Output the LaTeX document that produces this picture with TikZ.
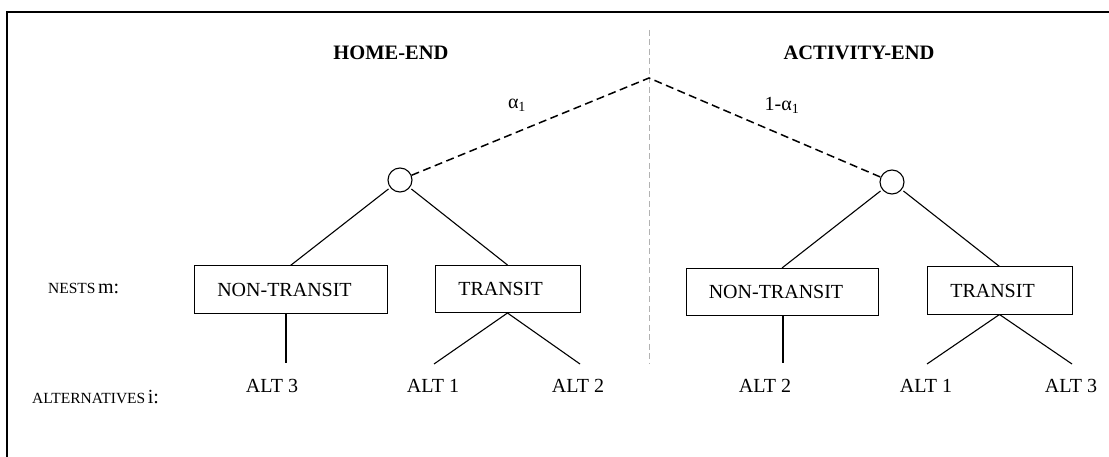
\documentclass[tikz,border=0pt]{standalone}
\usepackage{fontspec}
\setmainfont{Liberation Serif}
\begin{document}
\begin{tikzpicture}[x=1pt,y=-1pt,
  big/.style={font=\fontsize{20}{24}\selectfont, inner sep=0pt},
  head/.style={font=\fontsize{20.5}{24}\selectfont\bfseries, inner sep=0pt},
  boxnode/.style={draw, line width=1pt, minimum height=47pt, inner sep=0pt},
  circ/.style={draw, circle, line width=1.1pt, minimum size=24pt, inner sep=0pt},
  tree/.style={line width=1.1pt},
  dashline/.style={line width=1.5pt, dash pattern=on 8pt off 4.5pt},
  sepline/.style={line width=0.8pt, gray!60, dash pattern=on 6pt off 3.5pt}
]
\useasboundingbox (0,0) rectangle (1109,457);
% frame (extends beyond the picture on the right and bottom)
\begin{scope}
\clip (0,0) rectangle (1109,457);
\draw[line width=1.8pt] (7,470) -- (7,12) -- (1120,12);
\end{scope}
% separator
\coordinate (septop) at (649,30);
\coordinate (sepbot) at (649,363);
\draw[sepline] (septop) -- (sepbot);
% headings
\node[head] (hhome) at (391,53) {HOME-END};
\node[head] (hact) at (859,53) {ACTIVITY-END};
% peak and circles
\coordinate (peak) at (649,78);
\node[circ] (c1) at (400,180) {};
\node[circ] (c2) at (892,182) {};
\draw[dashline] (c1) -- (peak) -- (c2);
\node[big] (la1) at (517,105) {α\textsubscript{1}};
\node[big] (la2) at (782,105) {1-α\textsubscript{1}};
% boxes
\node[boxnode, minimum width=193pt] (nt1) at (290.5,289.5) {};
\node[big] (nt1t) at ([xshift=-6pt]nt1.center) {NON-TRANSIT};
\node[boxnode, minimum width=145pt] (t1) at (507.5,289) {};
\node[big] (t1t) at ([xshift=-7pt]t1.center) {TRANSIT};
\node[boxnode, minimum width=192pt] (nt2) at (782,292) {};
\node[big] (nt2t) at ([xshift=-6pt]nt2.center) {NON-TRANSIT};
\node[boxnode, minimum width=145pt] (t2) at (999.5,290.5) {};
\node[big] (t2t) at ([xshift=-7pt]t2.center) {TRANSIT};
% circle to boxes
\draw[tree, shorten <=2pt] (c1) -- (nt1.north);
\draw[tree, shorten <=2pt] (c1) -- (t1.north);
\draw[tree, shorten <=2pt] (c2) -- (nt2.north);
\draw[tree, shorten <=2pt] (c2) -- (t2.north);
% box to alternatives
\coordinate (e1) at (286,363);
\coordinate (e2) at (434,364);
\coordinate (e3) at (580,364);
\coordinate (e4) at (783,363);
\coordinate (e5) at (927,364);
\coordinate (e6) at (1072,364);
\draw[tree] (nt1.south -| e1) -- (e1);
\draw[tree] (t1.south) -- (e2);
\draw[tree] (t1.south) -- (e3);
\draw[tree] (nt2.south -| e4) -- (e4);
\draw[tree] (t2.south) -- (e5);
\draw[tree] (t2.south) -- (e6);
% alternatives
\node[big, anchor=base] (a1) at (272,392) {ALT 3};
\node[big, anchor=base] (a2) at (433,392) {ALT 1};
\node[big, anchor=base] (a3) at (578,392) {ALT 2};
\node[big, anchor=base] (a4) at (765,392) {ALT 2};
\node[big, anchor=base] (a5) at (926,392) {ALT 1};
\node[big, anchor=base] (a6) at (1071,392) {ALT 3};
% row labels
\node[anchor=base west, inner sep=0pt] (lnests) at (48,294)
  {{\fontsize{15.5}{18}\selectfont NESTS} {\fontsize{20}{24}\selectfont m:}};
\node[anchor=base west, inner sep=0pt] (lalts) at (32,403)
  {{\fontsize{15.5}{18}\selectfont ALTERNATIVES} {\fontsize{20}{24}\selectfont i:}};
\end{tikzpicture}
\end{document}
